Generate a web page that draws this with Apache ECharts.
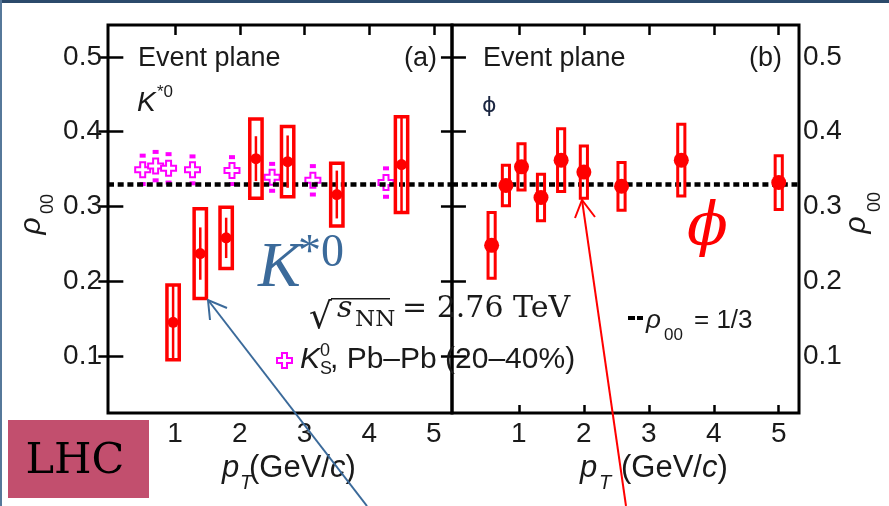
<!DOCTYPE html>
<html>
<head>
<meta charset="utf-8">
<script src="https://cdn.jsdelivr.net/npm/echarts@6/dist/echarts.min.js"></script>
<style>html,body{margin:0;padding:0;background:#fff}#chart{width:889px;height:506px}</style>
</head>
<body>
<div id="chart"></div>
<script>
// K*0 (panel a): pT, rho00, stat error, sys error (box half height)
var kstarPt = [0.97, 1.39, 1.79, 2.25, 2.74, 3.5, 4.5];
var kstarRho = [0.145, 0.237, 0.258, 0.364, 0.36, 0.316, 0.356];
var kstarStat = [0.051, 0.035, 0.027, 0.03, 0.035, 0.032, 0.063];
var kstarSys = [0.05, 0.06, 0.041, 0.053, 0.047, 0.042, 0.064];
// K0S (panel a, magenta crosses)
var k0sPt = [0.5, 0.7, 0.9, 1.27, 1.88, 2.5, 3.13, 4.26];
var k0sRho = [0.349, 0.354, 0.351, 0.349, 0.348, 0.339, 0.335, 0.332];
var k0sErr = [0.019, 0.019, 0.019, 0.018, 0.018, 0.018, 0.019, 0.019];
// phi (panel b)
var phiPt = [0.58, 0.8, 1.04, 1.34, 1.65, 2.0, 2.58, 3.5, 5.0];
var phiRho = [0.248, 0.328, 0.353, 0.312, 0.362, 0.346, 0.327, 0.362, 0.332];
var phiSys = [0.044, 0.027, 0.031, 0.031, 0.042, 0.035, 0.032, 0.048, 0.036];

var rhoRef = 1 / 3;
var xTicks = [1, 2, 3, 4, 5];
var yTicks = [0.1, 0.2, 0.3, 0.4, 0.5];

var SANS = "'Liberation Sans', Arial, sans-serif";
var DJS = "'DejaVu Serif', serif";
var LS = "'Liberation Serif', serif";
var INK = '#1a1a1a';
var RED = '#ff0000';
var MAG = '#ff00ff';
var BLUE = '#3b6a9a';

var chart = echarts.init(document.getElementById('chart'));

function zip() {
    var cols = arguments, out = [];
    for (var i = 0; i < cols[0].length; i++) {
        var row = [];
        for (var j = 0; j < cols.length; j++) row.push(cols[j][i]);
        out.push(row);
    }
    return out;
}

// sys box (+ optional stat bar) drawn from data coords
function boxRender(halfW, lw) {
    return function (params, api) {
        var x = api.value(0), y = api.value(1), sys = api.value(2), stat = api.value(3);
        var p1 = api.coord([x - halfW, y + sys]);
        var p2 = api.coord([x + halfW, y - sys]);
        var kids = [{
            type: 'rect',
            shape: {x: p1[0], y: p1[1], width: p2[0] - p1[0], height: p2[1] - p1[1]},
            style: {fill: 'none', stroke: RED, lineWidth: lw}
        }];
        if (stat) {
            var s1 = api.coord([x, y + stat]), s2 = api.coord([x, y - stat]);
            kids.push({type: 'line', shape: {x1: s1[0], y1: s1[1], x2: s2[0], y2: s2[1]},
                style: {stroke: RED, lineWidth: 2.5}});
        }
        return {type: 'group', children: kids};
    };
}

function capRender(params, api) {
    var x = api.value(0), y = api.value(1), e = api.value(2);
    var a = api.coord([x, y + e]), b = api.coord([x, y - e]);
    return {type: 'group', children: [
        {type: 'rect', shape: {x: a[0] - 3, y: a[1] - 2, width: 6, height: 4}, style: {fill: MAG}},
        {type: 'rect', shape: {x: b[0] - 3, y: b[1] - 2, width: 6, height: 4}, style: {fill: MAG}}
    ]};
}

function t(x, y, text, font, opt) {
    opt = opt || {};
    var st = {text: text, font: font, fill: opt.color || INK, align: opt.align || 'left', verticalAlign: 'middle'};
    if (opt.rich) st.rich = opt.rich;
    return {type: 'text', x: x, y: y, rotation: opt.rot || 0, z: 100, style: st};
}

function arrow(x1, y1, x2, y2, h1, h2, color) {
    return [
        {type: 'line', z: 120, shape: {x1: x1, y1: y1, x2: x2, y2: y2}, style: {stroke: color, lineWidth: 2}},
        {type: 'polyline', z: 120, shape: {points: [h1, [x2, y2], h2]}, style: {stroke: color, lineWidth: 2, fill: 'none'}}
    ];
}

var tickStyle = {color: '#000', width: 2.5};
function xAx(grid, pos, min, max, tickLen, showLabel) {
    return {
        type: 'value', gridIndex: grid, position: pos, min: min, max: max,
        axisLine: {show: false}, splitLine: {show: false},
        axisTick: {show: tickLen > 0, inside: true, length: tickLen, customValues: xTicks, lineStyle: tickStyle},
        axisLabel: {show: showLabel, customValues: xTicks, fontSize: 28, fontFamily: SANS, color: INK, margin: 7}
    };
}
function yAx(grid, pos, tickLen, showLabel, margin) {
    return {
        type: 'value', gridIndex: grid, position: pos, min: 0.0237, max: 0.5428,
        axisLine: {show: false}, splitLine: {show: false},
        axisTick: {inside: true, length: tickLen, customValues: yTicks, lineStyle: tickStyle},
        axisLabel: {show: showLabel, customValues: yTicks, fontSize: 28, fontFamily: SANS, color: INK, margin: margin,
            formatter: function (v) { return v.toFixed(1); }}
    };
}

var refLine = {
    silent: true, symbol: 'none', label: {show: false},
    lineStyle: {color: '#000', width: 4.5, type: [6, 3.7]},
    data: [{yAxis: rhoRef}]
};

var crossPath = 'path://M5,0H10V5H15V10H10V15H5V10H0V5H5Z';

var graphics = [
    {type: 'rect', z: 200, shape: {x: 0, y: 0, width: 889, height: 3}, style: {fill: '#2b4a6b'}},
    {type: 'rect', z: 200, shape: {x: 0, y: 0, width: 2, height: 506}, style: {fill: '#56789a'}},
    t(138, 58.5, 'Event plane', '27px ' + SANS),
    t(437, 58.5, '(a)', '27px ' + SANS, {align: 'right'}),
    t(483, 58.5, 'Event plane', '27px ' + SANS),
    t(782, 58.5, '(b)', '27px ' + SANS, {align: 'right'}),
    t(137, 103, 'K', 'italic 28px ' + SANS),
    t(157, 92, '*0', '17px ' + SANS),
    t(482, 106, 'ϕ', '22px DejaVu Sans', {color: '#1a2540'}),
    // y axis names
    t(32, 226, 'ρ', 'italic 30px ' + SANS, {rot: Math.PI / 2, align: 'center'}),
    t(48.5, 204, '00', '18px ' + SANS, {rot: Math.PI / 2, align: 'center'}),
    t(857, 225, 'ρ', 'italic 30px ' + SANS, {rot: Math.PI / 2, align: 'center'}),
    t(875.5, 202, '00', '18px ' + SANS, {rot: Math.PI / 2, align: 'center'}),
    // x axis names
    t(222, 468, 'p', 'italic 31px ' + SANS),
    t(240, 483, 'T', 'italic 20px ' + SANS),
    t(249, 468, '(GeV/{i|c})', '31px ' + SANS, {rich: {i: {font: 'italic 31px ' + SANS}}}),
    t(580, 468, 'p', 'italic 31px ' + SANS),
    t(599, 483, 'T', 'italic 20px ' + SANS),
    t(621, 468, '(GeV/{i|c})', '31px ' + SANS, {rich: {i: {font: 'italic 31px ' + SANS}}}),
    // reference line legend
    {type: 'rect', z: 100, shape: {x: 628, y: 316, width: 7, height: 4}, style: {fill: '#000'}},
    {type: 'rect', z: 100, shape: {x: 637, y: 316, width: 6, height: 4}, style: {fill: '#000'}},
    t(646, 321, 'ρ', 'italic 26px ' + SANS),
    t(664, 335, '00', '17px ' + SANS),
    t(694, 321, '= 1/3', '26px ' + SANS),
    // sqrt(sNN)
    t(309, 319, '√', '36px ' + DJS),
    {type: 'rect', z: 100, shape: {x: 331, y: 298, width: 59, height: 1.5}, style: {fill: INK}},
    t(337, 309.5, 's', 'italic 30px ' + DJS),
    t(355, 320, 'NN', '23px ' + DJS),
    t(402, 309.5, '= 2.76 TeV', '30px ' + DJS),
    // K0S legend
    {type: 'polygon', z: 100, shape: {points: [[282, 353], [287, 353], [287, 358], [292, 358], [292, 363], [287, 363],
        [287, 368], [282, 368], [282, 363], [277, 363], [277, 358], [282, 358]]},
        style: {fill: '#fff', stroke: MAG, lineWidth: 2}},
    t(300, 359.5, 'K', 'italic 30px ' + SANS),
    t(320, 350.7, '0', '18px ' + SANS),
    t(320, 368.7, 'S', '18px ' + SANS),
    t(330, 359.5, ', Pb–Pb (20–40%)', '30px ' + SANS),
    // annotations
    t(258, 269.6, 'K', 'italic 64px ' + LS, {color: BLUE}),
    t(298, 254, '*0', '46px ' + LS, {color: BLUE}),
    t(707.5, 229, 'ϕ', 'italic 60px ' + DJS, {color: RED, align: 'center'}),
    {type: 'rect', z: 90, shape: {x: 8, y: 420, width: 141, height: 78}, style: {fill: '#c24f6e'}},
    t(75, 462, 'LHC', '43px ' + DJS, {color: '#000', align: 'center'})
].concat(
    arrow(367, 506, 208, 300, [210, 320], [227, 308], BLUE),
    arrow(626, 506, 582, 200, [575, 218], [595, 217], RED)
);

var option = {
    backgroundColor: '#fff',
    animation: false,
    grid: [
        {left: 108, top: 25, width: 344, height: 388, show: true, borderColor: '#000', borderWidth: 3},
        {left: 452, top: 25, width: 347, height: 388, show: true, borderColor: '#000', borderWidth: 3}
    ],
    xAxis: [
        xAx(0, 'bottom', -0.036, 5.28, 0, true),
        xAx(0, 'top', -0.036, 5.28, 10, false),
        xAx(1, 'bottom', -0.03, 5.312, 8, true),
        xAx(1, 'top', -0.03, 5.312, 10, false)
    ],
    yAxis: [
        yAx(0, 'left', 13, true, 6),
        yAx(0, 'right', 12, false, 4),
        yAx(1, 'left', 12, false, 4),
        yAx(1, 'right', 13, true, 4)
    ],
    graphic: graphics,
    series: [
        {type: 'line', xAxisIndex: 0, yAxisIndex: 0, data: [], markLine: refLine, z: 1},
        {type: 'line', xAxisIndex: 2, yAxisIndex: 2, data: [], markLine: refLine, z: 1},
        {name: 'K0S err', type: 'custom', xAxisIndex: 0, yAxisIndex: 0, z: 3,
            renderItem: capRender, data: zip(k0sPt, k0sRho, k0sErr)},
        {name: 'K0S', type: 'scatter', xAxisIndex: 0, yAxisIndex: 0, z: 4,
            symbol: crossPath, symbolSize: 15,
            itemStyle: {color: '#fff', borderColor: MAG, borderWidth: 2, opacity: 1},
            data: zip(k0sPt, k0sRho)},
        {name: 'K*0 sys', type: 'custom', xAxisIndex: 0, yAxisIndex: 0, z: 5,
            renderItem: boxRender(0.095, 3.5), data: zip(kstarPt, kstarRho, kstarSys, kstarStat)},
        {name: 'K*0', type: 'scatter', xAxisIndex: 0, yAxisIndex: 0, z: 6,
            symbol: 'circle', symbolSize: 11, itemStyle: {color: RED, opacity: 1},
            data: zip(kstarPt, kstarRho)},
        {name: 'phi sys', type: 'custom', xAxisIndex: 2, yAxisIndex: 2, z: 5,
            renderItem: boxRender(0.055, 3), data: zip(phiPt, phiRho, phiSys, phiPt.map(function () { return 0; }))},
        {name: 'phi', type: 'scatter', xAxisIndex: 2, yAxisIndex: 2, z: 6,
            symbol: 'circle', symbolSize: 15, itemStyle: {color: RED, opacity: 1},
            data: zip(phiPt, phiRho)}
    ]
};
chart.setOption(option);
</script>
</body>
</html>
